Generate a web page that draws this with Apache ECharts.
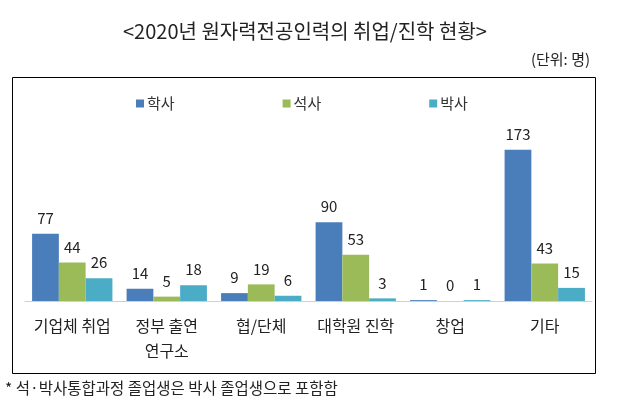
<!DOCTYPE html>
<html><head><meta charset="utf-8">
<script src="https://cdn.jsdelivr.net/npm/echarts@6/dist/echarts.min.js"></script>
<style>html,body{margin:0;padding:0;background:#fff}#c{width:622px;height:406px}</style>
</head><body><div id="c"></div>
<script>
const categories = ['기업체 취업', '정부 출연\n연구소', '협/단체', '대학원 진학', '창업', '기타'];
const bachelor = [77, 14, 9, 90, 1, 173];
const master = [44, 5, 19, 53, 0, 43];
const doctor = [26, 18, 6, 3, 1, 15];
const seriesNames = ['학사', '석사', '박사'];
const colors = ['#4A7EBB', '#9BBB59', '#4BACC6'];
const F = '"Noto Sans CJK KR", "Noto Sans", sans-serif';

const chart = echarts.init(document.getElementById('c'));
const mk = (name, data, color) => ({
  name, type: 'bar', data, barGap: '0%', barCategoryGap: '15%',
  itemStyle: { color },
  label: { show: true, position: 'top', distance: 8, color: '#222', fontSize: 15, fontFamily: F }
});
chart.setOption({
  animation: false,
  title: [
    { text: '<2020년 원자력전공인력의 취업/진학 현황>', left: 118, top: 16,
      textStyle: { fontSize: 20, fontWeight: 'normal', color: '#222', fontFamily: F } },
    { text: '(단위: 명)', right: 27, top: 47,
      textStyle: { fontSize: 15, fontWeight: 'normal', color: '#222', fontFamily: F } },
    { text: '* 석·박사통합과정 졸업생은 박사 졸업생으로 포함함', left: 0, top: 375,
      textStyle: { fontSize: 15.5, fontWeight: 'normal', color: '#222', fontFamily: F } }
  ],
  legend: {
    data: seriesNames, left: 131, top: 91, itemWidth: 8, itemHeight: 8, itemGap: 108,
    icon: 'rect', textStyle: { fontSize: 15, color: '#333', fontFamily: F, padding: [0, 0, 0, -2] }
  },
  graphic: [{ type: 'rect', shape: { x: 12.5, y: 77.5, width: 583, height: 296 },
    style: { fill: 'none', stroke: '#000', lineWidth: 1 }, z: 100 }],
  grid: { left: 25, right: 30, top: 126, bottom: 105 },
  xAxis: {
    type: 'category', data: categories,
    axisLine: { lineStyle: { color: '#d0d0d0' } }, axisTick: { show: false },
    axisLabel: { color: '#222', fontSize: 16, fontFamily: F, margin: 12, lineHeight: 25, interval: 0 }
  },
  yAxis: { type: 'value', min: 0, max: 200, show: false, splitLine: { show: false } },
  series: [mk(seriesNames[0], bachelor, colors[0]), mk(seriesNames[1], master, colors[1]), mk(seriesNames[2], doctor, colors[2])]
});
</script></body></html>
